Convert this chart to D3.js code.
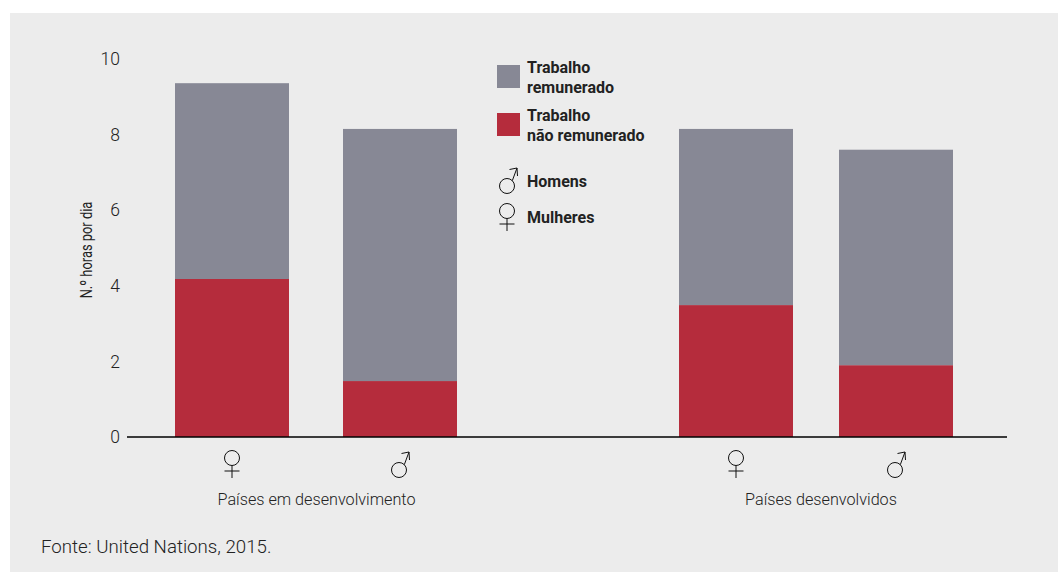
<!DOCTYPE html>
<html>
<head>
<meta charset="utf-8">
<script src="https://cdn.jsdelivr.net/npm/d3@7"></script>
<style>
  html, body { margin: 0; padding: 0; background: #fff; }
  svg { display: block; }
  text { font-family: "Roboto", "Liberation Sans", sans-serif; fill: #222; }
</style>
</head>
<body>
<div id="chart"></div>
<script>
// data (hours per day)
const barIds = ["devF", "devM", "richF", "richM"];
const genders = ["f", "m", "f", "m"];
const unpaid = [4.18, 1.48, 3.49, 1.9];
const paid = [5.18, 6.67, 4.66, 5.7];
const yTicks = [0, 2, 4, 6, 8, 10];
const groupLabels = ["Países em desenvolvimento", "Países desenvolvidos"];
const seriesNames = ["Trabalho não remunerado", "Trabalho remunerado"];

const width = 1058, height = 572;
const barWidth = 114;
const grey = "#878895", red = "#b52c3c";

const svg = d3.select("#chart").append("svg")
  .attr("width", width).attr("height", height);

// background panel
svg.append("rect")
  .attr("x", 10).attr("y", 13)
  .attr("width", width - 10).attr("height", height - 13)
  .attr("fill", "#ececec");

// scales
const yScale = d3.scaleLinear().domain([0, 10]).range([437, 59]);
const xScale = d3.scaleOrdinal(barIds, [175, 343, 679, 839]);
const colorScale = d3.scaleOrdinal(seriesNames, [red, grey]);

// stack the two series
const table = barIds.map((id, i) => ({
  id: id,
  [seriesNames[0]]: unpaid[i],
  [seriesNames[1]]: paid[i]
}));
const stacked = d3.stack().keys(seriesNames)(table);

svg.selectAll(".serie")
  .data(stacked)
  .enter()
  .append("g")
  .attr("class", "serie")
  .attr("fill", d => colorScale(d.key))
  .selectAll("rect")
  .data(d => d)
  .enter()
  .append("rect")
  .attr("x", d => xScale(d.data.id))
  .attr("y", d => yScale(d[1]))
  .attr("width", barWidth)
  .attr("height", d => yScale(d[0]) - yScale(d[1]));

// y axis: only labels, no domain or tick lines
const yAxis = d3.axisLeft(yScale).tickValues(yTicks).tickSize(0).tickPadding(0);
const yG = svg.append("g")
  .attr("transform", "translate(120,0)")
  .call(yAxis);
yG.select(".domain").remove();
yG.selectAll("text")
  .attr("font-size", 17.5)
  .style("font-family", "Roboto, sans-serif")
  .attr("font-weight", 300)
  .attr("fill", "#111");

// baseline
svg.append("line")
  .attr("x1", 127).attr("x2", 1007)
  .attr("y1", yScale(0)).attr("y2", yScale(0))
  .attr("stroke", "#000").attr("stroke-width", 1.4);

// the original label is condensed, so squeeze it along its own direction
svg.append("text")
  .attr("transform", "translate(92,250) rotate(-90) scale(0.76,1)")
  .attr("text-anchor", "middle")
  .attr("font-size", 17)
  .text("N.º horas por dia");

// gender symbols, drawn around the circle centre
function female(g, cx, cy) {
  g.append("circle").attr("cx", cx).attr("cy", cy).attr("r", 7.5);
  g.append("path").attr("d",
    `M${cx},${cy + 7.5}V${cy + 20}M${cx - 7.5},${cy + 13}H${cx + 7.5}`);
}
function male(g, cx, cy) {
  g.append("circle").attr("cx", cx).attr("cy", cy).attr("r", 7.5);
  g.append("path").attr("d",
    `M${cx + 5.3},${cy - 5.3}L${cx + 10},${cy - 18}M${cx + 2.5},${cy - 16.5}L${cx + 10},${cy - 18}L${cx + 10.5},${cy - 10}`);
}
const symbols = svg.append("g")
  .attr("fill", "none").attr("stroke", "#111").attr("stroke-width", 1);

barIds.forEach((id, i) => {
  const cx = xScale(id) + barWidth / 2;
  if (genders[i] === "f") female(symbols, cx, 458);
  else male(symbols, cx - 1, 470);
});

// group labels
svg.selectAll(".group")
  .data(groupLabels)
  .enter()
  .append("text")
  .attr("class", "group")
  .attr("x", (d, i) => [316.5, 821][i])
  .attr("y", 505)
  .attr("text-anchor", "middle")
  .attr("font-size", 16.2)
  .attr("font-weight", 300)
  .text(d => d);

// legend
const legend = svg.append("g").attr("font-size", 16).attr("font-weight", 700);
legend.append("rect").attr("x", 497).attr("y", 65).attr("width", 23).attr("height", 23)
  .attr("fill", colorScale(seriesNames[1]));
legend.append("rect").attr("x", 497).attr("y", 113).attr("width", 23).attr("height", 23)
  .attr("fill", colorScale(seriesNames[0]));

function legendText(x, y, s) {
  legend.append("text").attr("x", x).attr("y", y).text(s);
}
legendText(527, 73, "Trabalho");
legendText(527, 93, "remunerado");
legendText(527, 121, "Trabalho");
legendText(527, 141, "não remunerado");
legendText(527, 187, "Homens");
legendText(527, 223, "Mulheres");

male(symbols, 507, 186);
female(symbols, 507, 211);

// source
svg.append("text")
  .attr("x", 41).attr("y", 553)
  .attr("font-size", 18.7)
  .attr("font-weight", 300)
  .text("Fonte: United Nations, 2015.");
</script>
</body>
</html>
